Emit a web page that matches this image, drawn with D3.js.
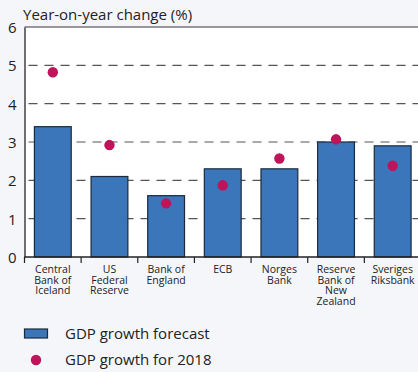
<!DOCTYPE html>
<html><head><meta charset="utf-8">
<script src="https://cdn.jsdelivr.net/npm/d3@7"></script>
<style>body{margin:0;background:#f4f6fa;}svg{display:block;font-family:"Open Sans",sans-serif;}</style>
</head><body><svg id="c" width="418" height="372"></svg>
<script>
const categories = [["Central","Bank of","Iceland"],["US","Federal","Reserve"],["Bank of","England"],["ECB"],["Norges","Bank"],["Reserve","Bank of","New","Zealand"],["Sveriges","Riksbank"]];
const forecast = [3.4, 2.1, 1.6, 2.3, 2.3, 3.0, 2.9];
const actual2018 = [4.82, 2.92, 1.40, 1.87, 2.57, 3.07, 2.38];
const yTicks = [0,1,2,3,4,5,6];
const title = "Year-on-year change (%)";
const legendLabels = ["GDP growth forecast","GDP growth for 2018"];

const svg = d3.select("#c");
const L = 24.5, R = 421, T = 27, B = 257;
const x = d3.scaleBand().domain(d3.range(categories.length)).range([L, R]).paddingInner(0.35).paddingOuter(0.175);
const y = d3.scaleLinear().domain([0,6]).range([B, T]);

svg.append("rect").attr("x",L).attr("y",T).attr("width",R-L).attr("height",B-T).attr("fill","#fff");

// gridlines
svg.append("g").selectAll("line").data(yTicks.filter(d=>d>0&&d<6)).join("line")
  .attr("x1",L).attr("x2",R).attr("y1",d=>y(d)).attr("y2",d=>y(d))
  .attr("stroke","#555").attr("stroke-width",1.2).attr("stroke-dasharray","9,7").attr("stroke-dashoffset",-4);

// top border
svg.append("line").attr("x1",L).attr("x2",R).attr("y1",T).attr("y2",T).attr("stroke","#777").attr("stroke-width",1.5);

// bars
svg.append("g").selectAll("rect").data(forecast).join("rect")
  .attr("x",(d,i)=>x(i)).attr("width",x.bandwidth())
  .attr("y",d=>y(d)).attr("height",d=>B-y(d))
  .attr("fill","#3a76b9").attr("stroke","#1b2a3e").attr("stroke-width",1.2);

// dots
svg.append("g").selectAll("circle").data(actual2018).join("circle")
  .attr("cx",(d,i)=>x(i)+x.bandwidth()/2).attr("cy",d=>y(d)).attr("r",5.2).attr("fill","#bf1459");

// y axis
const ya = svg.append("g").attr("transform",`translate(${L},0)`)
  .call(d3.axisLeft(y).tickValues(yTicks).tickFormat(d3.format("d")).tickSize(0).tickPadding(8));
ya.select(".domain").attr("stroke","#222").attr("stroke-width",1.3);
ya.selectAll("text").attr("font-size",15).attr("fill","#222").attr("font-family","Open Sans, sans-serif").attr("dy","0.36em");

// x axis
const xa = svg.append("g").attr("transform",`translate(0,${B})`);
xa.append("line").attr("x1",L).attr("x2",R).attr("stroke","#222").attr("stroke-width",1.3);
const tickX = d3.range(categories.length).map(i=>x(i)-x.step()*x.paddingInner()/2);
tickX[0]=L;
xa.selectAll("line.t").data(tickX).join("line").attr("class","t")
  .attr("x1",d=>d).attr("x2",d=>d).attr("y1",0).attr("y2",6).attr("stroke","#222").attr("stroke-width",1.2);
const lines = [];
categories.forEach((c,i)=>c.forEach((t,j)=>lines.push({i,j,t})));
xa.selectAll("text.cat").data(lines).join("text").attr("class","cat")
  .attr("x",d=>x(d.i)+x.bandwidth()/2).attr("y",d=>16+d.j*10.7).attr("text-anchor","middle")
  .attr("font-size",10.5).attr("fill","#222").text(d=>d.t);

// title
svg.append("text").attr("x",23).attr("y",20).attr("font-size",15).attr("fill","#222").text(title);

// legend
svg.append("rect").attr("x",24.5).attr("y",329).attr("width",23).attr("height",9).attr("fill","#3a76b9").attr("stroke","#1b2a3e").attr("stroke-width",1.2);
svg.append("text").attr("x",65).attr("y",339).attr("font-size",15).attr("fill","#222").text(legendLabels[0]);
svg.append("circle").attr("cx",36).attr("cy",360).attr("r",5.2).attr("fill","#bf1459");
svg.append("text").attr("x",65).attr("y",365).attr("font-size",15).attr("fill","#222").text(legendLabels[1]);
</script></body></html>
